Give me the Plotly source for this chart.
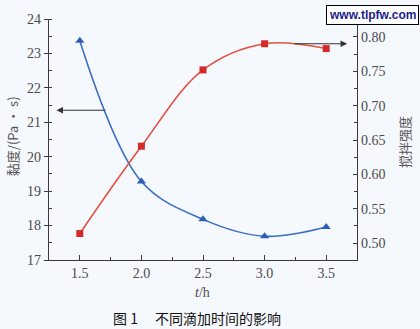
import plotly.graph_objects as go

t_h = [1.5, 2.0, 2.5, 3.0, 3.5]
viscosity = [23.37, 19.28, 18.18, 17.69, 17.96]
stir_strength = [0.514, 0.641, 0.752, 0.790, 0.783]

y_ticks = [17, 18, 19, 20, 21, 22, 23, 24]
y2_ticks = [0.50, 0.55, 0.60, 0.65, 0.70, 0.75, 0.80]
x_ticks = [1.5, 2.0, 2.5, 3.0, 3.5]

axis_col = "#3a3a3a"
tick_font = dict(family="Liberation Serif", size=14, color="#4a4a4a")

fig = go.Figure()
fig.add_trace(go.Scatter(
    x=t_h, y=viscosity, mode="lines+markers",
    line=dict(color="#3b6fc6", width=1.6, shape="spline", smoothing=1.0),
    marker=dict(symbol="triangle-up", size=8, color="#2a5db8"),
    yaxis="y", showlegend=False))
fig.add_trace(go.Scatter(
    x=t_h, y=stir_strength, mode="lines+markers",
    line=dict(color="#e2503f", width=1.6, shape="spline", smoothing=1.0),
    marker=dict(symbol="square", size=7, color="#d42a2a"),
    yaxis="y2", showlegend=False))

fig.update_layout(
    width=420, height=329,
    margin=dict(l=49, r=63, t=17, b=69),
    paper_bgcolor="#f5f8fc", plot_bgcolor="#f5f8fc",
    xaxis=dict(range=[1.25, 3.75], tickvals=x_ticks, ticktext=[f"{v:.1f}" for v in x_ticks],
               showgrid=False, zeroline=False, showline=True, linecolor=axis_col, linewidth=1.3,
               ticks="inside", ticklen=5, tickcolor=axis_col, tickfont=tick_font,
               minor=dict(dtick=0.25, ticks="inside", ticklen=3, tickcolor=axis_col)),
    yaxis=dict(range=[17, 24], tickvals=y_ticks, showgrid=False, zeroline=False,
               showline=True, linecolor=axis_col, linewidth=1.3,
               ticks="outside", ticklen=4, tickcolor=axis_col, tickfont=tick_font,
               minor=dict(dtick=0.5, ticks="inside", ticklen=3, tickcolor=axis_col)),
    yaxis2=dict(range=[0.4755, 0.826], overlaying="y", side="right",
                tickvals=y2_ticks, ticktext=[f"{v:.2f}" for v in y2_ticks],
                showgrid=False, zeroline=False, showline=True, linecolor=axis_col, linewidth=1.3,
                ticks="inside", ticklen=4, tickcolor=axis_col, tickfont=tick_font,
                minor=dict(dtick=0.025, ticks="inside", ticklen=3, tickcolor=axis_col)),
)

# arrows
fig.add_annotation(x=1.31, y=21.35, ax=1.72, ay=21.35, xref="x", yref="y", axref="x", ayref="y",
                   text="", showarrow=True, arrowhead=2, arrowsize=1.2, arrowwidth=1.1, arrowcolor="#333")
fig.add_annotation(x=3.67, y=0.790, ax=3.23, ay=0.790, xref="x", yref="y2", axref="x", ayref="y2",
                   text="", showarrow=True, arrowhead=2, arrowsize=1.2, arrowwidth=1.1, arrowcolor="#333")

ctr = dict(xanchor="center", yanchor="middle", showarrow=False)
# axis titles
fig.add_annotation(x=-0.12, y=0.514, xref="paper", yref="paper", text="黏度/(Pa • s)", textangle=-90,
                   font=dict(family="Noto Sans CJK SC", size=13, color="#555"), **ctr)
fig.add_annotation(x=1.156, y=0.49, xref="paper", yref="paper", text="搅拌强度", textangle=-90,
                   font=dict(family="Noto Sans CJK SC", size=13, color="#555"), **ctr)
fig.add_annotation(x=0.497, y=-0.136, xref="paper", yref="paper", text="<i>t</i>/h",
                   font=dict(family="Liberation Serif", size=14, color="#4a4a4a"), **ctr)
fig.add_annotation(x=0.48, y=-0.239, xref="paper", yref="paper", text="图 1　 不同滴加时间的影响",
                   font=dict(family="Noto Sans CJK SC", size=14, color="#111"), **ctr)

# watermark
fig.add_annotation(x=1.049, y=1.0185, xref="paper", yref="paper", text="<b>www.tlpfw.com</b>",
                   bgcolor="white", bordercolor="black", borderwidth=1, borderpad=2,
                   font=dict(family="Liberation Sans", size=12, color="#1c1c8c"), **ctr)

fig.write_html("out.html")
